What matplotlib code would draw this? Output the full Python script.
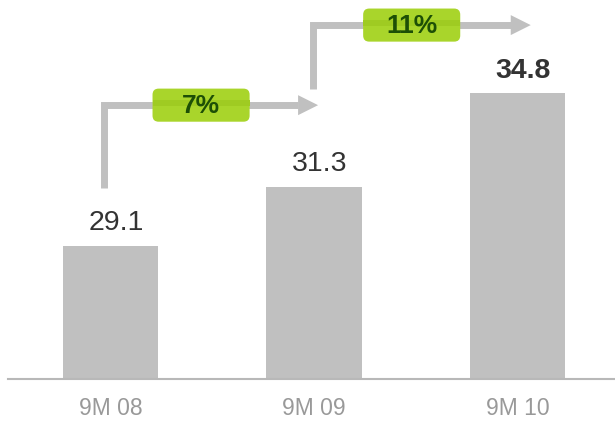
import matplotlib.pyplot as plt
from matplotlib.patches import FancyBboxPatch, Rectangle, Polygon

plt.rcParams['font.family'] = ['Liberation Sans', 'DejaVu Sans']

# datos
periodos = ['9M 08', '9M 09', '9M 10']
valores = [29.1, 31.3, 34.8]
crecimientos = ['7%', '11%']

# geometría de las flechas (inicio vertical, nivel horizontal, punta)
flechas = [
    dict(x0=-0.032, y0=31.25, y1=34.36, x1=1.02, caja_x=0.445),
    dict(x0=0.993, y0=34.96, y1=37.36, x1=2.065, caja_x=1.48),
]

gris = '#c0c0c0'
verde = '#a9d52b'
verde_osc = '#9fcb22'

fig = plt.figure(figsize=(6.15, 4.25), dpi=100)
ax = fig.add_axes([0, 46 / 425, 1, 1 - 46 / 425])

x = range(len(periodos))
ax.bar(x, valores, width=0.467, color=gris, zorder=2)
ax.set_xlim(-0.543, 2.479)
ax.set_ylim(24.1, 38.3)

# etiquetas de valor
for i, v in enumerate(valores):
    ax.annotate(f'{v:.1f}', (i, v), xytext=(4, 7), textcoords='offset points',
                ha='center', va='bottom', fontsize=20.5, color='#333333',
                fontweight='bold' if i == len(valores) - 1 else 'normal')

# flechas de crecimiento
px_x = 203.5  # pixeles por unidad en x
px_y = 26.7   # pixeles por unidad en y
cabeza_l = 20 / px_x
cabeza_h = 10 / px_y
bw, bh = 0.477, 1.24
for f, txt in zip(flechas, crecimientos):
    base = f['x1'] - cabeza_l
    ax.plot([f['x0'], f['x0'], base], [f['y0'], f['y1'], f['y1']], color=gris,
            lw=5, solid_joinstyle='miter', solid_capstyle='butt', zorder=3)
    ax.add_patch(Polygon([(base, f['y1'] - cabeza_h), (f['x1'], f['y1']),
                          (base, f['y1'] + cabeza_h)], closed=True, fc=gris,
                         ec='none', zorder=3))
    cx, cy = f['caja_x'], f['y1']
    caja = FancyBboxPatch((cx - bw / 2, cy - bh / 2), bw, bh,
                          boxstyle='round,pad=0,rounding_size=0.03',
                          mutation_aspect=7.6, fc=verde, ec='none', zorder=4)
    ax.add_patch(caja)
    ax.add_patch(Rectangle((cx - bw / 2, cy - 0.05), bw, 0.25, fc=verde_osc,
                           ec='none', zorder=4))
    ax.text(cx, cy - 0.05, txt, ha='center', va='center', fontsize=19,
            fontweight='bold', color='#1d4f06', zorder=5)

# ejes
for s in ['top', 'right', 'left']:
    ax.spines[s].set_visible(False)
ax.spines['bottom'].set_color('#b8b8b8')
ax.spines['bottom'].set_linewidth(1.5)
ax.spines['bottom'].set_bounds(-0.504, 2.479)
ax.set_yticks([])
ax.set_xticks(list(x))
ax.set_xticklabels(periodos, fontsize=16.5, color='#999999')
ax.tick_params(axis='x', length=0, pad=13)

fig.savefig('out.png', dpi=100)
